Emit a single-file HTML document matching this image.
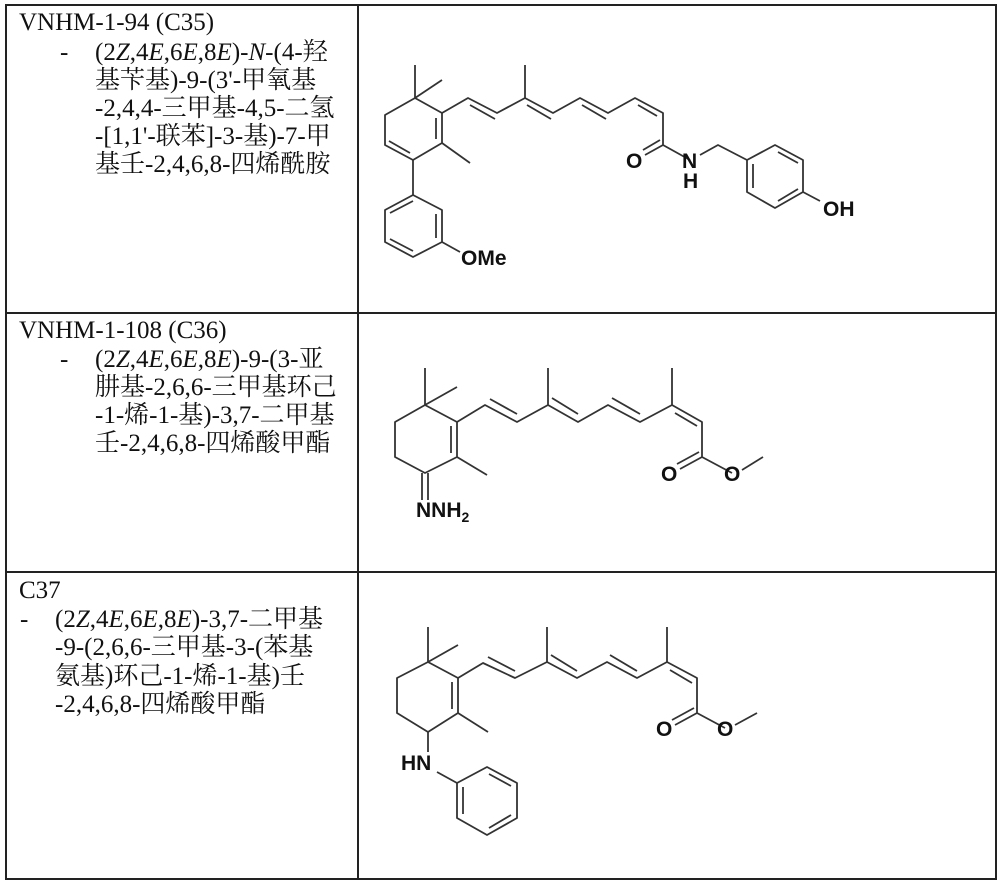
<!DOCTYPE html>
<html><head><meta charset="utf-8"><style>
body{margin:0;background:#fff;}
.t{position:absolute;font-family:"Liberation Serif","Noto Serif CJK SC",serif;font-size:25px;line-height:25px;color:#111;white-space:nowrap;}
svg{position:absolute;left:0;top:0;}
</style></head><body>
<svg width="1000" height="885" viewBox="0 0 1000 885">
<g stroke="#222" stroke-width="2" fill="none">
<rect x="6" y="5" width="990" height="874"/>
<line x1="358" y1="5" x2="358" y2="879"/>
<line x1="6" y1="313" x2="996" y2="313"/>
<line x1="6" y1="572" x2="996" y2="572"/>
</g>
<g stroke="#333" stroke-width="1.8" fill="none" stroke-linejoin="round">
<polyline points="415,65 415,98 442,80"/>
<polygon points="415,98 442,113 442,143 413,160 385,145 385,115"/>
<line x1="436" y1="118" x2="436" y2="139"/>
<line x1="410" y1="153" x2="389" y2="141"/>
<line x1="442" y1="143" x2="470" y2="163"/>
<line x1="413" y1="160" x2="413" y2="195"/>
<polygon points="413,195 442,210 442,242 413,257 385,242 385,210"/>
<line x1="436" y1="214" x2="436" y2="238"/>
<line x1="413" y1="251" x2="390" y2="239"/>
<line x1="390" y1="213" x2="413" y2="201"/>
<line x1="442" y1="242" x2="460" y2="252"/>
<polyline points="442,113 468,98 497,113 525,98 553,113 580,98 608,113 635,98 663,113 663,145 690,160"/>
<line x1="470" y1="105" x2="495" y2="119"/>
<line x1="525" y1="65" x2="525" y2="98"/>
<line x1="527" y1="105" x2="551" y2="119"/>
<line x1="582" y1="105" x2="606" y2="119"/>
<line x1="638" y1="105" x2="657" y2="116"/>
<line x1="663" y1="145" x2="645" y2="155"/>
<line x1="660" y1="140" x2="643" y2="150"/>
<polyline points="700,155 718,145 747,160"/>
<polygon points="747,160 775,145 803,160 803,192 775,208 747,192"/>
<line x1="753" y1="164" x2="753" y2="188"/>
<line x1="778" y1="152" x2="798" y2="163"/>
<line x1="798" y1="189" x2="778" y2="201"/>
<line x1="803" y1="192" x2="820" y2="201"/>
<polyline points="425,368 425,405 457,387"/>
<polygon points="425,405 457,422 457,457 425,473 395,457 395,422"/>
<line x1="451" y1="426" x2="451" y2="453"/>
<line x1="457" y1="457" x2="487" y2="475"/>
<line x1="422" y1="473" x2="422" y2="500"/>
<line x1="428" y1="473" x2="428" y2="500"/>
<polyline points="457,422 485,405 517,422 548,405 578,422 608,405 640,422 672,405 702,422 702,457 732,473"/>
<line x1="490" y1="399" x2="517" y2="414"/>
<line x1="548" y1="368" x2="548" y2="405"/>
<line x1="552" y1="398" x2="578" y2="414"/>
<line x1="612" y1="398" x2="640" y2="414"/>
<line x1="672" y1="368" x2="672" y2="405"/>
<line x1="675" y1="413" x2="697" y2="426"/>
<line x1="702" y1="457" x2="680" y2="469"/>
<line x1="699" y1="452" x2="677" y2="464"/>
<line x1="742" y1="470" x2="763" y2="457"/>
<polyline points="428,627 428,662 458,645"/>
<polygon points="428,662 458,678 458,713 428,732 397,713 397,678"/>
<line x1="452" y1="682" x2="452" y2="709"/>
<line x1="458" y1="713" x2="488" y2="732"/>
<line x1="428" y1="732" x2="428" y2="752"/>
<line x1="437" y1="772" x2="457" y2="783"/>
<polygon points="457,783 487,767 517,783 517,818 487,835 457,818"/>
<line x1="463" y1="787" x2="463" y2="814"/>
<line x1="489" y1="774" x2="511" y2="786"/>
<line x1="511" y1="815" x2="489" y2="828"/>
<polyline points="458,678 483,663 515,678 547,662 577,678 607,662 637,678 667,662 697,678 697,713 725,728"/>
<line x1="488" y1="657" x2="515" y2="671"/>
<line x1="547" y1="627" x2="547" y2="662"/>
<line x1="551" y1="655" x2="577" y2="671"/>
<line x1="610" y1="655" x2="637" y2="671"/>
<line x1="667" y1="627" x2="667" y2="662"/>
<line x1="670" y1="670" x2="692" y2="683"/>
<line x1="697" y1="713" x2="675" y2="725"/>
<line x1="694" y1="708" x2="672" y2="720"/>
<line x1="735" y1="725" x2="757" y2="713"/>
</g>
<g font-family="Liberation Sans, sans-serif" font-weight="bold" font-size="21" fill="#111">
<text x="461" y="265">OMe</text>
<text x="626" y="168">O</text>
<text x="682" y="168">N</text>
<text x="683" y="188">H</text>
<text x="823" y="216">OH</text>
<text x="416" y="517">NNH<tspan font-size="14" dy="5">2</tspan></text>
<text x="661" y="481">O</text>
<text x="724" y="481">O</text>
<text x="401" y="770">HN</text>
<text x="656" y="736">O</text>
<text x="717" y="736">O</text>
</g>
</svg>
<div class="t" style="left:19px;top:10px">VNHM-1-94 (C35)</div>
<div class="t" style="left:60px;top:40px">-</div>
<div class="t" style="left:95px;top:40px">(2<i>Z</i>,4<i>E</i>,6<i>E</i>,8<i>E</i>)-<i>N</i>-(4-羟</div>
<div class="t" style="left:95px;top:68px">基苄基)-9-(3'-甲氧基</div>
<div class="t" style="left:95px;top:96px">-2,4,4-三甲基-4,5-二氢</div>
<div class="t" style="left:95px;top:124px">-[1,1'-联苯]-3-基)-7-甲</div>
<div class="t" style="left:95px;top:152px">基壬-2,4,6,8-四烯酰胺</div>

<div class="t" style="left:19px;top:318px">VNHM-1-108 (C36)</div>
<div class="t" style="left:60px;top:347px">-</div>
<div class="t" style="left:95px;top:347px">(2<i>Z</i>,4<i>E</i>,6<i>E</i>,8<i>E</i>)-9-(3-亚</div>
<div class="t" style="left:95px;top:375px">肼基-2,6,6-三甲基环己</div>
<div class="t" style="left:95px;top:403px">-1-烯-1-基)-3,7-二甲基</div>
<div class="t" style="left:95px;top:431px">壬-2,4,6,8-四烯酸甲酯</div>

<div class="t" style="left:19px;top:578px">C37</div>
<div class="t" style="left:20px;top:607px">-</div>
<div class="t" style="left:55px;top:607px">(2<i>Z</i>,4<i>E</i>,6<i>E</i>,8<i>E</i>)-3,7-二甲基</div>
<div class="t" style="left:55px;top:635px">-9-(2,6,6-三甲基-3-(苯基</div>
<div class="t" style="left:55px;top:664px">氨基)环己-1-烯-1-基)壬</div>
<div class="t" style="left:55px;top:692px">-2,4,6,8-四烯酸甲酯</div>
</body></html>
